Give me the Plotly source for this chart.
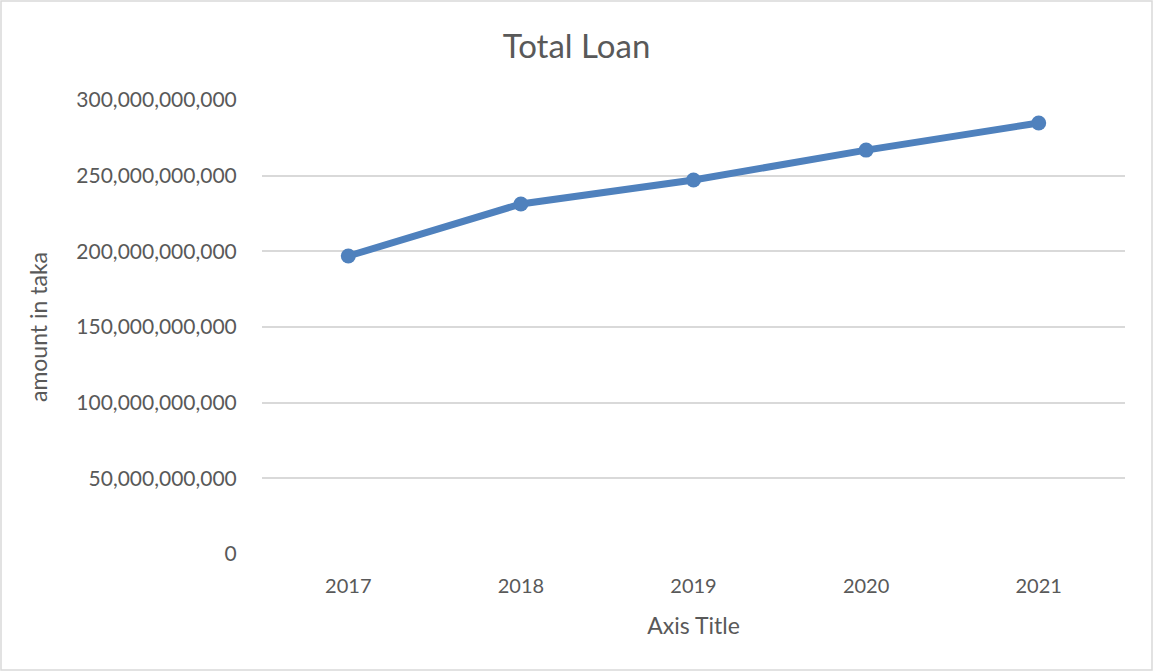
import plotly.graph_objects as go

years = ["2017", "2018", "2019", "2020", "2021"]
total_loan = [196.9e9, 231.3e9, 247.1e9, 266.9e9, 284.8e9]
y_ticks = [0, 50e9, 100e9, 150e9, 200e9, 250e9, 300e9]
y_tick_labels = ["0", "50,000,000,000", "100,000,000,000", "150,000,000,000",
                 "200,000,000,000", "250,000,000,000", "300,000,000,000"]

font = "Lato, Open Sans, sans-serif"
grey = "#595959"

fig = go.Figure()
fig.add_trace(go.Scatter(
    x=years, y=total_loan, mode="lines+markers",
    line=dict(color="#4f81bd", width=7),
    marker=dict(color="#4f81bd", size=15),
    showlegend=False,
))

fig.update_layout(
    width=1153, height=671,
    margin=dict(l=262, r=28, t=100, b=117),
    paper_bgcolor="white", plot_bgcolor="white",
    title=dict(text="Total Loan", x=0.5, xref="container", xanchor="center",
               y=1 - 46 / 671, yref="container", yanchor="middle",
               font=dict(family=font, size=33, color=grey)),
    font=dict(family=font, color=grey),
    xaxis=dict(
        type="category", range=[-0.5, 4.5],
        showgrid=False, showline=False, zeroline=False,
        ticks="outside", ticklen=14, tickcolor="rgba(0,0,0,0)",
        tickfont=dict(family=font, size=20, color=grey),
        title=dict(text="Axis Title", font=dict(family=font, size=23, color=grey), standoff=21),
    ),
    yaxis=dict(
        range=[0, 300e9], tickvals=y_ticks, ticktext=y_tick_labels,
        showgrid=True, gridcolor="#d9d9d9", gridwidth=1.5,
        zeroline=False, showline=False,
        ticks="outside", ticklen=20, tickcolor="rgba(0,0,0,0)",
        tickfont=dict(family=font, size=21, color=grey),
        title=dict(text="amount in taka", font=dict(family=font, size=23, color=grey), standoff=22),
    ),
    shapes=[dict(type="rect", xref="paper", yref="paper",
                 x0=-261 / 863, x1=1 + 27 / 863, y0=-116 / 454, y1=1 + 99 / 454,
                 line=dict(color="#d9d9d9", width=1.5), fillcolor="rgba(0,0,0,0)", layer="below")],
)

fig.write_html("out.html")
